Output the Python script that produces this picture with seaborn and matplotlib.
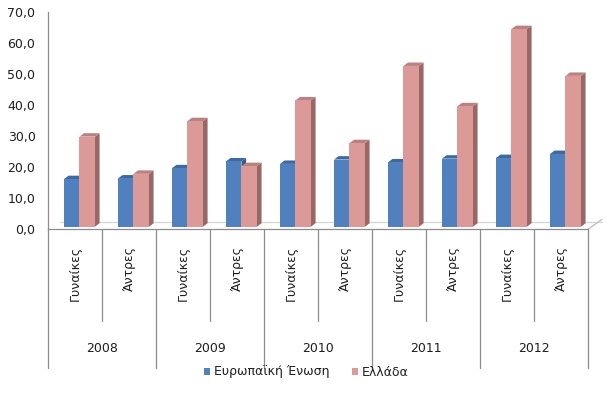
import numpy as np
import pandas as pd
import matplotlib
matplotlib.use("Agg")
import matplotlib.pyplot as plt
from matplotlib.patches import Polygon, Patch
from matplotlib.ticker import FuncFormatter
import seaborn as sns

# Data
years = ["2008", "2009", "2010", "2011", "2012"]
sexes = ["Γυναίκες", "Άντρες"]
series = ["Ευρωπαϊκή Ένωση", "Ελλάδα"]
eu = [16.2, 16.4, 19.7, 21.9, 21.1, 22.5, 21.6, 22.8, 23.0, 24.3]
gr = [29.9, 17.9, 34.9, 20.4, 41.6, 27.8, 52.7, 39.7, 64.6, 49.5]

front = {"Ευρωπαϊκή Ένωση": "#5081BE", "Ελλάδα": "#DB9A98"}
top_col = ["#3D69A0", "#B98280"]
side_col = ["#36598A", "#966866"]

cats = [f"{y} {s}" for y in years for s in sexes]
df = pd.DataFrame({
    "cat": cats * 2,
    "series": [series[0]] * len(eu) + [series[1]] * len(gr),
    "value": eu + gr,
})

sns.set_style("white")
plt.rcParams["font.family"] = ["DejaVu Sans"]
txt_col = "#1e1e1e"
line_col = "#8c8c8c"
fs = 9

fig = plt.figure(figsize=(6.06, 3.96), dpi=100)
ax = fig.add_axes([48 / 606, 1 - 229.3 / 396, 540 / 606, 217 / 396])

sns.barplot(data=df, x="cat", y="value", hue="series", order=cats,
            hue_order=series, palette=front, width=0.574, saturation=1,
            linewidth=0, legend=False, ax=ax)

# fake 3D look: shift bars, lift off the floor, add top and side faces
shift, dx, dy, base = 0.083, 0.085, 1.1, 0.85
for k, cont in enumerate(ax.containers):
    for bar in cont:
        x0 = bar.get_x() + shift
        w = bar.get_width()
        h = bar.get_height()
        bar.set_x(x0)
        bar.set_y(base)
        bar.set_height(h - base)
        bar.set_zorder(2.1 + k)
        x1 = x0 + w
        side = Polygon([(x1, base), (x1 + dx, base + dy), (x1 + dx, h + dy), (x1, h)],
                       closed=True, facecolor=side_col[k], edgecolor="none", zorder=2.05 + k)
        top = Polygon([(x0, h), (x0 + dx, h + dy), (x1 + dx, h + dy), (x1, h)],
                      closed=True, facecolor=top_col[k], edgecolor="none", zorder=2.05 + k)
        ax.add_patch(side)
        ax.add_patch(top)

# floor back edge
ax.plot([-0.28, 9.76], [2.5, 2.5], color="#d4d4d4", lw=0.9, zorder=1, clip_on=False)
ax.plot([9.5, 9.76], [0, 3.2], color="#bdbdbd", lw=0.9, zorder=1, clip_on=False)

ax.set_xlim(-0.5, 9.5)
ax.set_ylim(0, 70)
ax.set_yticks(np.arange(0, 71, 10))
ax.yaxis.set_major_formatter(FuncFormatter(lambda v, _: f"{v:.1f}".replace(".", ",")))
ax.tick_params(axis="y", length=0, pad=9, labelsize=fs, labelcolor=txt_col)
ax.set_xticks([])
ax.set_xlabel("")
ax.set_ylabel("")
for s in ["top", "right"]:
    ax.spines[s].set_visible(False)
for s in ["left", "bottom"]:
    ax.spines[s].set_color(line_col)
    ax.spines[s].set_linewidth(0.9)

# two-level category axis
tr = ax.get_xaxis_transform()
for i in range(len(cats) + 1):
    low = -0.641 if i % 2 == 0 else -0.423
    ax.plot([i - 0.5, i - 0.5], [0, low], transform=tr, color=line_col,
            lw=0.9, clip_on=False)
for i, c in enumerate(cats):
    ax.text(i, -0.075, sexes[i % 2], rotation=90, ha="center", va="top",
            transform=tr, fontsize=fs, color=txt_col)
for j, y in enumerate(years):
    ax.text(2 * j + 0.5, -0.548, y, ha="center", va="center",
            transform=tr, fontsize=fs, color=txt_col)

handles = [Patch(facecolor=front[s], edgecolor="none") for s in series]
fig.legend(handles, series, loc="center", bbox_to_anchor=(0.505, 1 - 372 / 396),
           ncol=2, frameon=False, handlelength=0.5, handleheight=0.5,
           handletextpad=0.3, columnspacing=1.8, fontsize=fs,
           labelcolor=txt_col)

fig.savefig("out.png", dpi=100)
